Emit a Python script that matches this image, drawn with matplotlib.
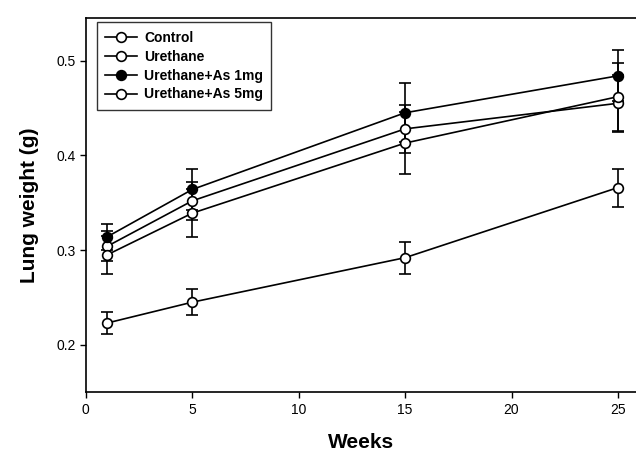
import matplotlib
matplotlib.use("Agg")
import matplotlib.pyplot as plt
from matplotlib.lines import Line2D

weeks = [1, 5, 15, 25]
control = [0.223, 0.245, 0.292, 0.366]
control_err = [0.012, 0.014, 0.017, 0.020]
urethane = [0.304, 0.352, 0.428, 0.455]
urethane_err = [0.016, 0.020, 0.025, 0.030]
as1mg = [0.314, 0.364, 0.445, 0.484]
as1mg_err = [0.014, 0.022, 0.031, 0.027]
as5mg = [0.295, 0.339, 0.413, 0.462]
as5mg_err = [0.020, 0.025, 0.033, 0.036]

series = [
    ("Control", control, control_err, "white"),
    ("Urethane", urethane, urethane_err, "white"),
    ("Urethane+As 1mg", as1mg, as1mg_err, "black"),
    ("Urethane+As 5mg", as5mg, as5mg_err, "white"),
]

plt.rcParams["font.family"] = ["Liberation Sans", "DejaVu Sans"]

fig = plt.figure(figsize=(6.36, 4.63), dpi=100)
ax = fig.add_axes([0.135, 0.153, 0.865, 0.808])

handles = []
for name, vals, err, face in series:
    ax.errorbar(weeks, vals, yerr=err, color="black", lw=1.2, marker="o",
                ms=7, mfc=face, mec="black", mew=1.2, capsize=4,
                elinewidth=1.2, capthick=1.2)
    # legend shows just line + marker, no error caps
    handles.append(Line2D([], [], color="black", lw=1.2, marker="o", ms=7,
                          mfc=face, mec="black", mew=1.2, label=name))

ax.set_xlim(0, 25.85)
ax.set_ylim(0.15, 0.545)
ax.set_xticks([0, 5, 10, 15, 20, 25])
ax.set_yticks([0.2, 0.3, 0.4, 0.5])
ax.set_yticklabels(["0.2", "0.3", "0.4", "0.5"])
ax.tick_params(direction="out", length=4, width=1, labelsize=10)
ax.spines["right"].set_visible(False)
for s in ["left", "bottom", "top"]:
    ax.spines[s].set_linewidth(1.2)

ax.set_xlabel("Weeks", fontsize=15, fontweight="bold", labelpad=12)
ax.set_ylabel("Lung weight (g)", fontsize=15, fontweight="bold", labelpad=12)

leg = ax.legend(handles=handles, loc="upper left", bbox_to_anchor=(0.01, 1.003),
                fancybox=False, edgecolor="black",
                prop={"weight": "bold", "size": 10},
                handlelength=2.3, handletextpad=0.5, borderpad=0.6,
                labelspacing=0.35, borderaxespad=0.4)
leg.get_frame().set_linewidth(1.0)

fig.savefig("out.png", dpi=100)
